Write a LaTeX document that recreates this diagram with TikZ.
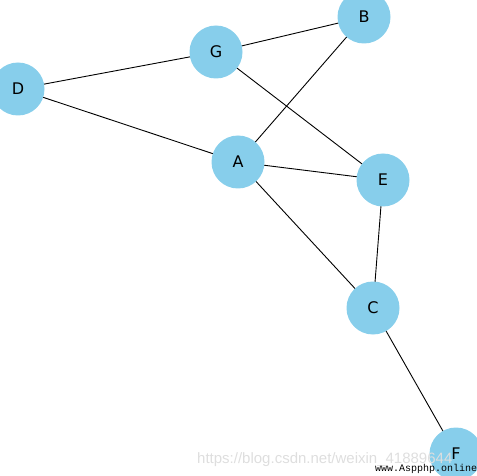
\documentclass[tikz,border=0pt]{standalone}
\usepackage{fontspec}
\setmainfont{DejaVu Sans}
\newfontfamily\monofont{Liberation Mono}
\newfontfamily\wmfont{Liberation Sans}
\definecolor{skyb}{HTML}{87CEEB}
\begin{document}
\begin{tikzpicture}[x=1pt,y=-1pt,
  vert/.style={circle,fill=skyb,minimum size=53pt,inner sep=0pt,font=\fontsize{16}{18}\selectfont},
  edge/.style={draw=black,line width=0.9pt}]
\useasboundingbox (0,0) rectangle (477,476);
\clip (0,0) rectangle (477,476);
\coordinate (pB) at (364,17);
\coordinate (pG) at (216,52);
\coordinate (pD) at (18,89);
\coordinate (pA) at (238,162);
\coordinate (pE) at (383,180);
\coordinate (pC) at (373,308);
\coordinate (pF) at (456,454);
\draw[edge] (pG) -- (pB);
\draw[edge] (pG) -- (pD);
\draw[edge] (pD) -- (pA);
\draw[edge] (pG) -- (pE);
\draw[edge] (pA) -- (pB);
\draw[edge] (pA) -- (pE);
\draw[edge] (pA) -- (pC);
\draw[edge] (pE) -- (pC);
\draw[edge] (pC) -- (pF);
\node[vert] (B) at (pB) {B};
\node[vert] (G) at (pG) {G};
\node[vert] (D) at (pD) {D};
\node[vert] (A) at (pA) {A};
\node[vert] (E) at (pE) {E};
\node[vert] (C) at (pC) {C};
\node[vert] (F) at (pF) {F};
\node[anchor=base west,text=black!13,font=\wmfont\fontsize{15}{18}\selectfont,inner sep=0pt] (wm) at (197,463) {https://blog.csdn.net/weixin\_41889644};
\node[anchor=base west,text=black,font=\monofont\fontsize{10}{12}\selectfont,inner sep=0pt] (wm2) at (375,471) {www.Aspphp.online};
\end{tikzpicture}
\end{document}
